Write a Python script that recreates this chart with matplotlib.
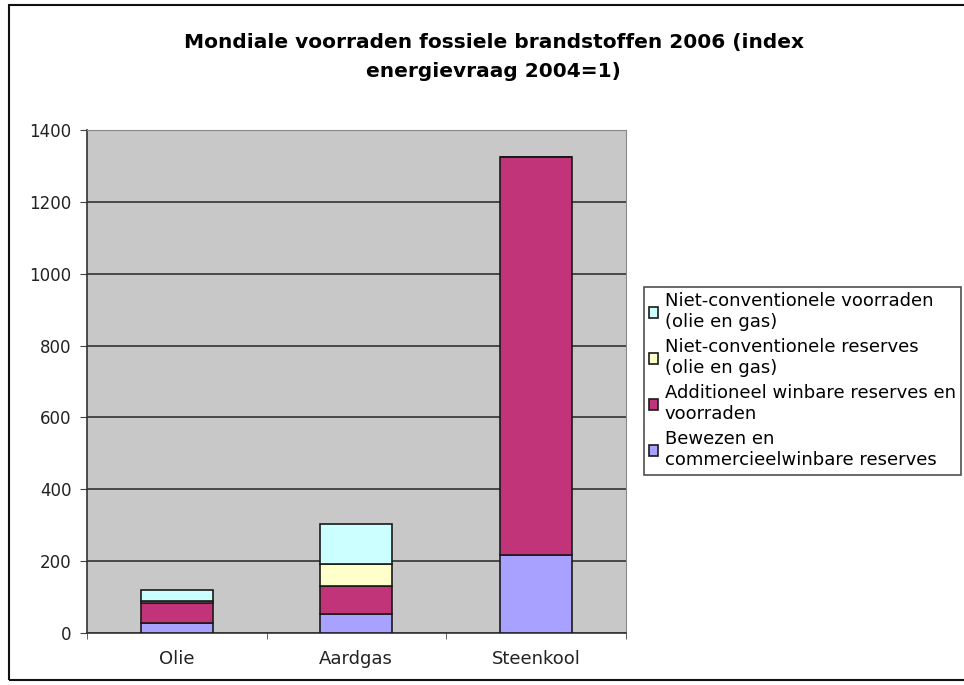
import matplotlib.pyplot as plt
import matplotlib.patches as mpatches
import numpy as np

# Gegevens (index energievraag 2004 = 1)
categorieen = ['Olie', 'Aardgas', 'Steenkool']
bewezen = [29, 52, 217]
additioneel = [55, 79, 1108]
nc_reserves = [4, 61, 0]
nc_voorraden = [32, 111, 0]

series_labels = [
    'Bewezen en\ncommercieelwinbare reserves',
    'Additioneel winbare reserves en\nvoorraden',
    'Niet-conventionele reserves\n(olie en gas)',
    'Niet-conventionele voorraden\n(olie en gas)',
]
kleuren = ['#a9a1ff', '#c2347a', '#ffffcc', '#ccffff']
y_ticks = [0, 200, 400, 600, 800, 1000, 1200, 1400]

fig = plt.figure(figsize=(9.64, 6.85), dpi=100)
ax = fig.add_axes([0.0902, 0.0759, 0.5588, 0.7343])
ax.set_facecolor('#c8c8c8')

x = np.arange(len(categorieen))
onderkant = np.zeros(len(categorieen))
for waarden, label, kleur in zip([bewezen, additioneel, nc_reserves, nc_voorraden], series_labels, kleuren):
    ax.bar(x, waarden, width=0.4, bottom=onderkant, color=kleur, edgecolor='#1a1a1a',
           linewidth=1.2, label=label, zorder=3)
    onderkant += np.array(waarden)

ax.set_xlim(-0.5, 2.5)
ax.set_ylim(0, 1400)
ax.set_yticks(y_ticks)
ax.yaxis.grid(True, color='#333333', linewidth=1.2, zorder=1)
ax.tick_params(axis='y', labelsize=12, length=5, pad=6, color='#444444', labelcolor='#222222')
ax.set_xticks(x)
ax.set_xticklabels(categorieen, fontsize=13, color='#222222')
ax.tick_params(axis='x', length=0, pad=12)
ax.set_xticks([-0.5, 0.5, 1.5, 2.5], minor=True)
ax.tick_params(axis='x', which='minor', length=4, color='#444444')

for kant in ['top', 'right']:
    ax.spines[kant].set_color('#888888')
for kant in ['left', 'bottom']:
    ax.spines[kant].set_color('#333333')
    ax.spines[kant].set_linewidth(1.2)

fig.text(0.512, 0.952, 'Mondiale voorraden fossiele brandstoffen 2006 (index\nenergievraag 2004=1)',
         ha='center', va='top', fontsize=14.5, fontweight='bold', linespacing=1.7)

handles, labels = ax.get_legend_handles_labels()
leg = fig.legend(handles[::-1], labels[::-1], loc='upper left',
                 bbox_to_anchor=(644 / 964, 1 - 287 / 685), fontsize=13,
                 frameon=True, fancybox=False, edgecolor='#222222',
                 handlelength=0.5, handleheight=0.5, handletextpad=0.35,
                 borderpad=0.3, labelspacing=0.4, borderaxespad=0)
leg.get_frame().set_linewidth(1.2)

# rand om de hele grafiek
fig.patches.append(mpatches.Rectangle((0.009, 0.008), 1.2, 0.984, transform=fig.transFigure,
                                      fill=False, edgecolor='#111111', linewidth=1.5))

fig.savefig('out.png', dpi=100)
